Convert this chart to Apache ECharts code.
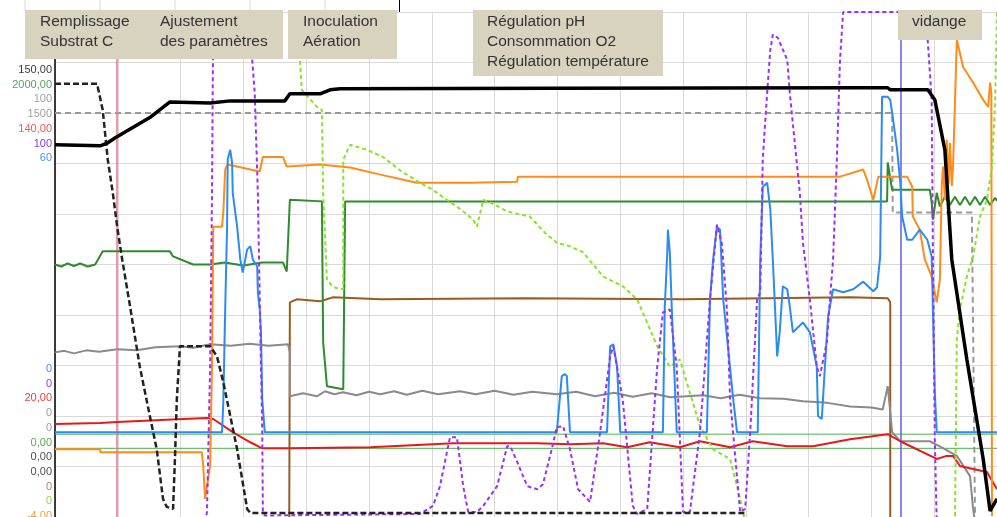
<!DOCTYPE html>
<html>
<head>
<meta charset="utf-8">
<script src="https://cdn.jsdelivr.net/npm/echarts@6/dist/echarts.min.js"></script>
<style>
html, body { margin: 0; padding: 0; background: #fff; }
#chart { width: 997px; height: 517px; }
</style>
</head>
<body>
<div id="chart"></div>
<script>
// temps en heures (0-15), valeurs en % de l'echelle affichee
var poids = [[0,73.7],[0.72,73.5],[0.84,74.1],[0.96,75.1],[1.51,79.1],[1.83,82.2],[2.47,82.0],[2.79,82.4],[3.66,82.4],[3.74,83.8],[4.22,83.8],[4.38,84.6],[4.54,84.8],[8.0,84.9],[12.82,85.0],[13.26,85.0],[13.30,84.6],[13.90,84.6],[14.01,82.6],[14.17,72.7],[14.28,51.0],[14.52,31.2],[14.78,11.5],[14.89,1.2],[15,3.6]];
var substrat = [[0,85.8],[0.67,85.8],[0.76,80.6],[0.84,70.8],[0.92,64.2],[0.99,57.5],[1.07,51.0],[1.19,42.1],[1.35,29.8],[1.51,20.0],[1.62,13.4],[1.72,3.6],[1.78,2.0],[1.88,1.6],[1.91,11.5],[1.94,23.3],[1.99,33.8],[2.47,33.8],[2.58,31.8],[2.68,26.7],[2.90,13.4],[3.06,1.6],[3.11,0.8],[10.99,0.8]];
var consigne = [[0,80.0],[13.33,80.0],[13.34,60.3],[14.60,60.3],[14.65,0.2]];
var oxygene = [[3.85,100],[3.90,90.5],[3.93,84.6],[4.17,81.2],[4.25,80.6],[4.27,64.2],[4.33,47.0],[4.43,45.5],[4.59,45.1],[4.59,70.8],[4.70,73.7],[4.97,72.7],[5.22,71.3],[5.50,68.6],[5.81,66.2],[6.00,64.9],[6.24,62.8],[6.45,61.0],[6.66,58.9],[6.72,57.5],[6.82,62.8],[6.93,62.3],[7.20,60.5],[7.56,59.5],[7.80,56.3],[7.99,54.3],[8.20,53.6],[8.41,52.4],[8.73,47.6],[9.04,45.7],[9.27,43.1],[9.59,33.8],[9.79,29.8],[9.95,31.2],[10.27,18.0],[10.48,13.4],[10.75,11.5],[10.91,3.6],[10.99,-1],[14.33,-1],[14.36,35.2],[14.41,41.1],[14.52,47.6],[14.62,51.6],[14.73,59.5],[14.84,62.8],[14.92,69.4],[14.97,82.6],[15,100]];
var pH = [[2.39,-1],[2.42,1.0],[2.47,29.8],[2.50,64.2],[2.52,100],[3.11,100],[3.14,90.5],[3.18,84.0],[3.23,64.2],[3.26,43.1],[3.30,16.8],[3.31,1.0],[3.34,0.3],[5.81,0.6],[6.02,2.2],[6.13,6.1],[6.29,15.8],[6.40,15.8],[6.50,6.1],[6.58,1.0],[6.72,1.0],[6.82,2.2],[7.04,6.1],[7.20,14.0],[7.25,14.0],[7.36,10.9],[7.52,6.1],[7.68,5.5],[7.77,6.5],[7.91,13.4],[7.99,17.8],[8.09,18.0],[8.20,13.4],[8.33,5.5],[8.52,3.0],[8.68,16.8],[8.84,31.8],[8.89,33.8],[9.04,23.3],[9.20,2.2],[9.27,0.6],[9.43,1.6],[9.59,29.8],[9.68,40.5],[9.79,41.1],[9.90,29.8],[10.00,1.0],[10.11,1.0],[10.27,16.8],[10.43,43.1],[10.54,57.9],[10.62,54.0],[10.70,41.1],[10.75,23.3],[10.91,1.0],[10.99,1.6],[11.07,16.8],[11.18,43.1],[11.23,44.5],[11.27,70.8],[11.34,84.0],[11.39,92.5],[11.43,95.5],[11.51,94.9],[11.66,90.5],[11.70,84.0],[11.78,74.1],[11.86,64.2],[11.91,54.3],[12.02,43.1],[12.13,29.8],[12.18,27.9],[12.29,34.6],[12.34,43.1],[12.39,51.0],[12.45,70.8],[12.50,90.5],[12.55,100],[13.85,100],[13.90,93.9],[13.96,82.6],[13.98,51.6],[14.01,15.4],[14.04,-1]];
var base = [[0,16.8],[2.66,16.8],[2.68,22.7],[2.71,41.1],[2.74,57.5],[2.75,70.8],[2.79,72.7],[2.82,70.2],[2.83,64.2],[2.90,57.5],[2.95,51.0],[2.99,48.4],[3.06,53.0],[3.11,53.6],[3.15,51.0],[3.22,49.6],[3.23,44.5],[3.26,41.1],[3.28,36.6],[3.30,23.3],[3.34,16.8],[7.99,16.8],[8.07,27.9],[8.12,28.3],[8.15,27.9],[8.20,16.8],[8.79,16.8],[8.84,33.8],[8.89,34.2],[8.95,29.8],[9.00,16.8],[9.68,16.8],[9.71,41.7],[9.75,52.4],[9.76,56.9],[9.79,52.4],[9.82,41.7],[9.90,16.8],[10.38,16.8],[10.43,43.1],[10.48,51.0],[10.54,57.5],[10.59,56.9],[10.64,43.1],[10.80,23.3],[10.86,16.8],[11.19,16.8],[11.23,51.0],[11.27,65.4],[11.34,66.2],[11.39,60.9],[11.43,51.0],[11.50,31.8],[11.54,36.6],[11.59,45.7],[11.66,45.1],[11.70,41.7],[11.75,36.6],[11.91,38.5],[12.02,36.6],[12.13,29.8],[12.15,20.0],[12.21,19.4],[12.26,29.8],[12.31,39.7],[12.39,45.1],[12.55,44.5],[12.71,45.1],[12.87,46.6],[13.03,44.7],[13.09,45.5],[13.14,51.6],[13.17,83.2],[13.26,83.2],[13.30,82.6],[13.34,79.2],[13.41,72.7],[13.46,66.2],[13.49,59.5],[13.57,54.9],[13.65,54.9],[13.77,56.9],[13.89,54.9],[13.96,51.6],[14.01,24.7],[14.04,16.8],[15,16.8]];
var temperature = [[0,13.4],[0.72,13.4],[0.72,12.8],[2.34,12.8],[2.36,10.1],[2.39,3.6],[2.42,3.6],[2.47,10.1],[2.50,29.8],[2.52,57.5],[2.66,57.5],[2.68,60.3],[2.71,68.8],[2.75,69.8],[3.11,68.8],[3.26,68.4],[3.31,71.3],[3.63,71.3],[3.69,69.4],[4.22,69.8],[4.70,69.2],[5.18,67.8],[5.76,66.2],[6.61,66.2],[7.36,66.4],[7.37,67.4],[12.50,67.4],[12.87,68.8],[12.93,66.8],[13.03,62.8],[13.11,67.4],[13.57,67.4],[13.65,65.4],[13.66,59.5],[13.77,56.9],[13.85,51.0],[13.96,47.6],[14.04,42.5],[14.09,47.0],[14.12,65.4],[14.14,69.4],[14.17,63.0],[14.20,74.7],[14.23,66.0],[14.25,74.1],[14.28,65.5],[14.30,69.4],[14.36,94.5],[14.38,94.5],[14.46,89.1],[14.62,86.0],[14.78,82.6],[14.86,81.2],[14.89,86.0],[14.91,84.0],[14.92,0.2]];
var agitation = [[0,50.0],[0.10,49.6],[0.20,50.2],[0.30,49.7],[0.40,50.2],[0.52,49.6],[0.64,50.0],[0.76,52.6],[1.83,52.6],[1.88,51.6],[2.20,50.0],[2.47,50.0],[2.70,50.4],[3.00,49.8],[3.30,50.4],[3.63,50.4],[3.69,48.6],[3.71,48.6],[3.74,62.8],[4.25,62.5],[4.27,34.6],[4.33,25.9],[4.59,25.3],[4.62,62.5],[13.25,62.5],[13.26,70.2],[13.33,64.8],[13.93,64.8],[13.96,62.3],[13.98,58.9],[14.04,64.2],[14.09,61.5],[14.17,63.4],[14.25,61.8],[14.33,63.4],[14.41,61.8],[14.49,63.4],[14.57,61.8],[14.65,63.4],[14.73,61.8],[14.81,63.4],[14.89,61.8],[14.97,63.2],[15,62.6]];
var aeration = [[3.73,-1],[3.74,42.5],[3.85,43.1],[4.22,42.7],[4.43,43.5],[5.18,43.1],[7.50,43.3],[10.00,43.1],[12.66,43.5],[13.26,43.3],[13.30,42.5],[13.30,-1]];
var pression = [[0,32.6],[0.15,32.9],[0.30,32.4],[0.50,33.0],[0.70,32.7],[0.99,33.2],[1.30,33.0],[1.60,33.6],[1.99,33.8],[2.20,33.5],[2.47,34.2],[2.80,33.9],[3.10,34.3],[3.40,33.9],[3.71,34.2],[3.74,32.6],[3.74,23.9],[3.95,24.5],[4.17,23.9],[4.30,24.9],[4.45,24.3],[4.59,24.7],[4.80,24.1],[5.00,24.8],[5.18,24.3],[5.40,24.9],[5.60,24.2],[5.85,25.0],[6.10,24.3],[6.45,24.9],[6.70,24.3],[7.00,25.0],[7.30,24.2],[7.60,24.8],[7.99,24.3],[8.30,24.8],[8.60,23.9],[8.90,24.6],[9.20,23.8],[9.50,24.5],[9.80,23.7],[10.32,24.1],[10.60,23.5],[10.90,24.2],[11.23,23.5],[11.60,23.4],[11.91,22.9],[12.30,22.6],[12.66,21.9],[13.00,21.7],[13.18,21.3],[13.26,25.9],[13.30,20.8],[13.33,16.8],[13.46,15.0],[13.93,15.0],[14.09,14.0],[14.36,12.1],[14.57,8.1],[14.62,1.6],[14.65,-1]];
var redox = [[0,18.4],[0.72,18.6],[0.99,18.8],[2.04,19.4],[2.42,19.6],[2.52,19.4],[2.83,16.8],[3.11,14.8],[3.30,13.6],[3.74,13.6],[5.02,13.8],[6.34,14.6],[7.68,14.6],[8.20,14.4],[8.73,14.6],[9.11,13.8],[9.47,14.8],[9.95,13.8],[10.27,15.0],[10.75,13.8],[11.11,15.0],[11.66,14.0],[12.07,14.0],[12.66,15.4],[13.26,16.4],[13.46,15.0],[14.04,11.5],[14.20,12.1],[14.30,12.1],[14.41,10.1],[14.62,9.5],[14.84,8.9],[15,5.5]];
var seuils = [16.4, 13.6];
var evenements = [0.99, 13.47];

var topTicks = ['150,00', '2000,00', '100', '1500', '140,00', '100', '60'];
var topTickColors = ['#3c3c3c', '#5f9f5f', '#a0a0a0', '#a0a0a0', '#f05a5a', '#8a3fe0', '#4a96e8'];
var bottomTicks = ['0', '0', '20,00', '0', '0', '0,00', '0,00', '0,00', '0', '0', '-4,00'];
var bottomTickColors = ['#3a8ee6', '#9340ee', '#ee4040', '#a0a0a0', '#a0a0a0', '#5faa4f', '#505050', '#505050', '#c07878', '#90dd40', '#f0a040'];

var phases = [['Remplissage', 'Substrat C'], ['Ajustement', 'des paramètres'], ['Inoculation', 'Aération'], ['Régulation pH', 'Consommation O2', 'Régulation température'], ['vidange']];

var chart = echarts.init(document.getElementById('chart'));

function ligne(name, data, color, width, dash, z) {
	return {
		name: name,
		type: 'line',
		data: data,
		showSymbol: false,
		symbol: 'none',
		silent: true,
		z: z,
		lineStyle: { color: color, width: width, type: dash || 'solid' }
	};
}

var graphics = [];
// petites lignes du graphe du dessus
[25, 100, 175, 250, 325].forEach(function (x) {
	graphics.push({ type: 'line', shape: { x1: x, y1: 0, x2: x, y2: 11 }, style: { stroke: '#d8d8d8', lineWidth: 1 }, z: 50 });
});
graphics.push({ type: 'line', shape: { x1: 399.5, y1: 0, x2: 399.5, y2: 12 }, style: { stroke: '#000', lineWidth: 1 }, z: 50 });

topTicks.forEach(function (t, i) {
	graphics.push({ type: 'text', x: 52, y: 70 + i * 14.7, z: 60,
		style: { text: t, fill: topTickColors[i], font: '11px "Liberation Sans", Arial, sans-serif', align: 'right', verticalAlign: 'middle' } });
});
bottomTicks.forEach(function (t, i) {
	graphics.push({ type: 'text', x: 52, y: 369 + i * 14.7, z: 60,
		style: { text: t, fill: bottomTickColors[i], font: '11px "Liberation Sans", Arial, sans-serif', align: 'right', verticalAlign: 'middle' } });
});

// cadres des phases
var boxes = [
	{ x: 25, w: 258, h: 49 },
	{ x: 288, w: 109, h: 49 },
	{ x: 473, w: 190, h: 66 },
	{ x: 898, w: 84, h: 30 }
];
boxes.forEach(function (b) {
	graphics.push({ type: 'rect', shape: { x: b.x, y: 10, width: b.w, height: b.h }, style: { fill: '#d7d3bf' }, z: 90 });
});
var textX = [40, 160, 303, 487, 912];
phases.forEach(function (lines, i) {
	graphics.push({ type: 'text', x: textX[i], y: 12, z: 95,
		style: { text: lines.join('\n'), fill: '#333', font: '15.5px "Liberation Sans", Arial, sans-serif', lineHeight: 20, verticalAlign: 'top' } });
});

chart.setOption({
	animation: false,
	backgroundColor: '#fff',
	grid: { left: 55, top: 12, width: 942, height: 506 },
	xAxis: {
		type: 'value', min: 0, max: 15, interval: 1, position: 'top',
		axisLine: { show: true, lineStyle: { color: '#000', width: 1 } },
		axisTick: { show: false }, axisLabel: { show: false },
		splitLine: { show: true, lineStyle: { color: '#d9d9d9', width: 1 } }
	},
	yAxis: {
		type: 'value', min: 0, max: 100, interval: 10,
		axisLine: { show: true, lineStyle: { color: '#000', width: 1.5 } },
		axisTick: { show: false }, axisLabel: { show: false },
		splitLine: { show: true, lineStyle: { color: '#d9d9d9', width: 1 } }
	},
	graphic: graphics,
	series: [
		{
			name: 'evenements', type: 'line', data: [], silent: true, z: 1,
			markLine: {
				symbol: 'none', silent: true, label: { show: false },
				data: [
					{ xAxis: evenements[0], lineStyle: { color: '#f07088', width: 1.5, type: 'solid' } },
					{ xAxis: evenements[1], lineStyle: { color: '#5b5bf0', width: 1.5, type: 'solid' } }
				]
			}
		},
		ligne('seuil haut', [[0, seuils[0]], [15, seuils[0]]], '#4fae4f', 1, null, 2),
		ligne('seuil bas', [[0, seuils[1]], [15, seuils[1]]], '#4fae4f', 1, null, 2),
		ligne('consigne', consigne, '#9a9a9a', 2, [6, 4], 3),
		ligne('aeration', aeration, '#9b5a22', 2, null, 4),
		ligne('pression', pression, '#8a8a8a', 2, null, 4),
		ligne('agitation', agitation, '#2e8b2e', 2, null, 5),
		ligne('redox', redox, '#e61919', 2, null, 5),
		ligne('temperature', temperature, '#ff8c1a', 2, null, 6),
		ligne('oxygene', oxygene, '#86e52a', 2, [4, 3], 6),
		ligne('base', base, '#2a8cf0', 2, null, 7),
		ligne('pH', pH, '#9a30f8', 2, [4, 3], 8),
		ligne('substrat', substrat, '#222', 2.5, [6, 3], 9),
		ligne('poids', poids, '#000', 3.5, null, 10)
	]
});
</script>
</body>
</html>
